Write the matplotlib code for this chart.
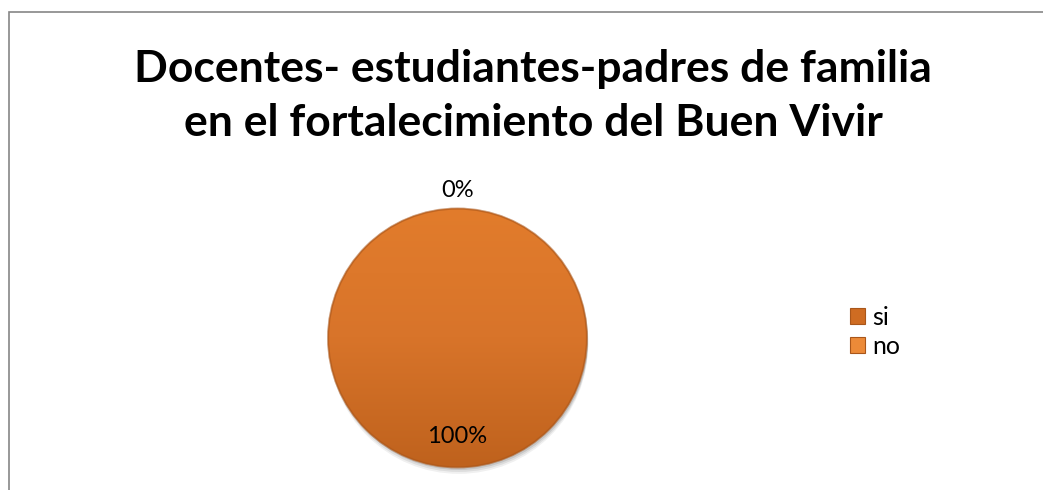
import matplotlib.pyplot as plt
import matplotlib.patches as mpatches
import numpy as np
from matplotlib.colors import LinearSegmentedColormap

# chart data
categories = ["si", "no"]
values = [100, 0]
slice_colors = ["#CF6C22", "#EC8A38"]
title = "Docentes- estudiantes-padres de familia\nen el fortalecimiento del Buen Vivir"

W, H = 1043, 490
FONT = ["Lato", "DejaVu Sans"]
fig = plt.figure(figsize=(W / 100, H / 100), dpi=100)
fig.patch.set_facecolor("white")

# outer chart frame (runs off the right/bottom edges like the reference)
frame = mpatches.Rectangle((9 / W, -0.01), 1.05, (H - 12) / H + 0.01,
                           transform=fig.transFigure, fill=False,
                           edgecolor="#868686", linewidth=1.2)
fig.patches.append(frame)

fig.text(0.511, 1 - 96 / H, title, ha="center", va="center", fontsize=32,
         fontweight="bold", family=FONT, linespacing=1.45, color="black")

cx, cy, r = 457.5, 338, 132
ax = fig.add_axes([(cx - r) / W, (H - cy - r) / H, 2 * r / W, 2 * r / H])
wedges, texts, autotexts = ax.pie(values, colors=slice_colors, startangle=90,
                                  counterclock=False, autopct="%1.0f%%",
                                  pctdistance=0.76, radius=1,
                                  wedgeprops=dict(linewidth=0, zorder=1.2),
                                  textprops=dict(fontsize=17, family=FONT))
ax.set_xlim(-1.02, 1.02)
ax.set_ylim(-1.02, 1.02)
ax.axis("off")

# soft drop shadow under the pie
for k, a in zip([0.05, 0.035, 0.02], [0.06, 0.08, 0.10]):
    ax.add_patch(mpatches.Circle((0.01, -k), 1.0, facecolor="black", alpha=a,
                                 linewidth=0, zorder=1, clip_on=False))

# vertical gradient shading clipped to the full slice
cmap = LinearSegmentedColormap.from_list("pie", ["#E27C2C", "#D8742A", "#BF621D"])
grad = np.linspace(0, 1, 256).reshape(-1, 1)
im = ax.imshow(grad, cmap=cmap, extent=[-1, 1, -1, 1], origin="upper",
               aspect="auto", zorder=1.5)
im.set_clip_path(wedges[0])
rim = mpatches.Circle((0, 0), 1, fill=False, edgecolor="#A9561A",
                      linewidth=1.5, alpha=0.6, zorder=1.6)
ax.add_patch(rim)
for t in autotexts:
    t.set_zorder(3)

# move labels of empty slices outside the pie
for w, t, v in zip(wedges, autotexts, values):
    if v == 0:
        ang = np.deg2rad((w.theta1 + w.theta2) / 2)
        t.set_position((1.14 * np.cos(ang), 1.14 * np.sin(ang)))

handles = [mpatches.Patch(facecolor=c, edgecolor="#A9561A", linewidth=0.8)
           for c in slice_colors]
fig.legend(handles, categories, loc="center left",
           bbox_to_anchor=(850 / W, 1 - 332 / H), frameon=False,
           prop=dict(family=FONT, size=18), borderpad=0, borderaxespad=0,
           handlelength=0.6, handleheight=0.6, handletextpad=0.3,
           labelspacing=0.25)

fig.savefig("out.png", dpi=100, facecolor="white")
